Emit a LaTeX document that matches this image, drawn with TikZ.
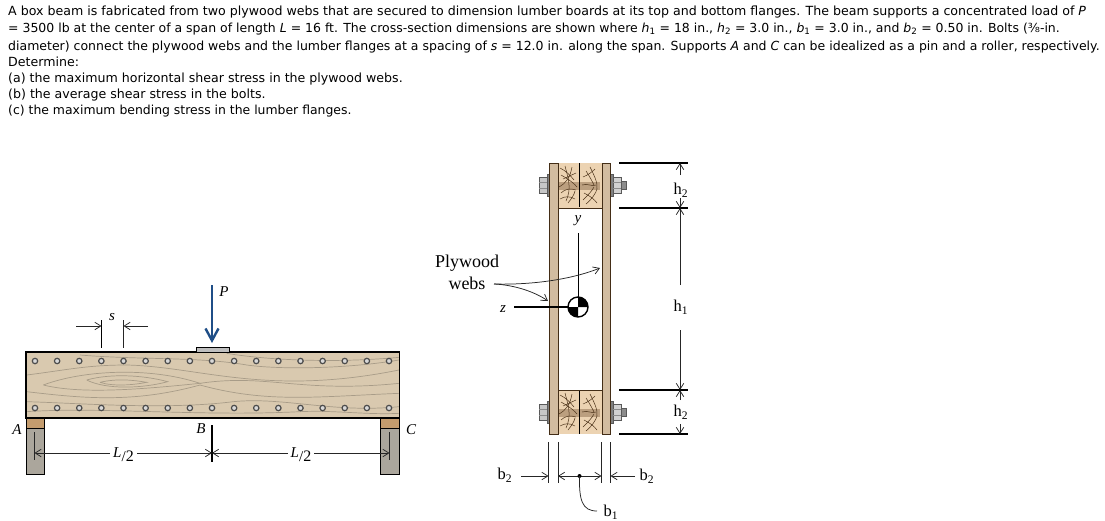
\documentclass[tikz,border=0pt]{standalone}
\usepackage{fontspec}
\setmainfont{Liberation Serif}
\newfontfamily\probfont{DejaVu Sans}
\usetikzlibrary{arrows.meta}
\definecolor{woodc}{HTML}{D9C9AF}
\definecolor{grainc}{HTML}{A89C88}
\definecolor{plyc}{HTML}{D2BCA0}
\definecolor{lumberc}{HTML}{ECD3B2}
\definecolor{blockc}{HTML}{C49C6E}
\definecolor{suppc}{HTML}{ABA69C}
\definecolor{loadc}{HTML}{1F4E87}
\tikzset{
  probline/.style={anchor=base west, inner sep=0pt, font=\probfont\fontsize{#1}{14}\selectfont},
  probline/.default=12.6,
  dimline/.style={draw=black!85, line width=0.75pt},
  dimarrow/.style={dimline, -{Straight Barb[length=6pt,width=7.5pt]}},
  extline/.style={draw=black, line width=1.1pt},
  lbl/.style={inner sep=0pt, font=\fontsize{15}{15}\selectfont},
  ital/.style={lbl, font=\itshape\fontsize{15}{15}\selectfont},
  sublbl/.style={lbl, font=\fontsize{16.5}{16}\selectfont},
  grain/.style={draw=grainc, line width=0.7pt},
  knot/.style={draw=black!60!brown, line width=0.5pt},
  boltpart/.style={draw=black!65, line width=0.6pt},
}
\newcommand{\subs}[1]{\textsubscript{#1}}
\begin{document}
\begin{tikzpicture}[x=1pt,y=-1pt]
  \useasboundingbox (0,0) rectangle (1105,520);
  % problem text
  \node[probline] (t1) at (8,15) {A box beam is fabricated from two plywood webs that are secured to dimension lumber boards at its top and bottom flanges. The beam supports a concentrated load of \textit{P}};
  \node[probline=12.47] (t2) at (8,32) {= 3500 lb at the center of a span of length \textit{L} = 16 ft. The cross-section dimensions are shown where \textit{h}\subs{1} = 18 in., \textit{h}\subs{2} = 3.0 in., \textit{b}\subs{1} = 3.0 in., and \textit{b}\subs{2} = 0.50 in. Bolts (⅜-in.};
  \node[probline=12.5] (t3) at (8,50) {diameter) connect the plywood webs and the lumber flanges at a spacing of \textit{s} = 12.0 in. along the span. Supports \textit{A} and \textit{C} can be idealized as a pin and a roller, respectively.};
  \node[probline] (t4) at (8,66) {Determine:};
  \node[probline] (t5) at (8,82) {(a) the maximum horizontal shear stress in the plywood webs.};
  \node[probline] (t6) at (8,98) {(b) the average shear stress in the bolts.};
  \node[probline=12.42] (t7) at (8,114) {(c) the maximum bending stress in the lumber flanges.};

  % beam
  \fill[woodc] (26,352) rectangle (399.5,418);
  \begin{scope}[shift={(0,270)},scale=1/3]
    \draw[grain] (130,345) .. controls (250,300) and (450,290) .. (600,340) .. controls (450,355) and (250,375) .. (130,345);
    \draw[grain] (260,330) .. controls (330,310) and (430,315) .. (503,335) .. controls (430,355) and (320,360) .. (260,330);
    \draw[grain] (300,337) .. controls (350,325) and (400,330) .. (440,337) .. controls (400,345) and (340,350) .. (300,337);
    \draw[grain] (80,315) .. controls (200,300) and (260,285) .. (380,285) .. controls (600,290) and (800,380) .. (1197,300);
    \draw[grain] (240,255) .. controls (420,270) and (600,260) .. (740,285) .. controls (850,300) and (1050,295) .. (1197,270);
    \draw[grain] (600,340) .. controls (800,310) and (900,370) .. (1197,340);
    \draw[grain] (80,365) .. controls (250,385) and (400,400) .. (600,345) .. controls (800,400) and (950,380) .. (1197,370);
    \draw[grain] (80,395) .. controls (250,400) and (500,420) .. (700,395) .. controls (850,380) and (1000,430) .. (1197,410);
    \draw[grain] (80,425) .. controls (300,410) and (600,440) .. (900,425) .. controls (1000,420) and (1100,435) .. (1197,430);
    \draw[grain] (680,250) .. controls (800,270) and (1000,280) .. (1197,262);
  \end{scope}
  \draw[line width=1.2pt] (26,352) rectangle (399.5,418);
  \foreach \i in {0,...,16} {
    \draw[line width=1.2pt, draw=black!70, fill=white!85!black] ({35+22.125*\i},361) circle (2.7pt);
    \draw[line width=1.2pt, draw=black!70, fill=white!85!black] ({35+22.125*\i},408) circle (2.7pt);
  }
  % load plate and load
  \draw[fill=black!25, line width=0.8pt] (196.5,347) rectangle (229.5,352);
  \coordinate (Ptop) at (212,285);
  \coordinate (Ptip) at (212,343);
  \draw[draw=loadc, line width=2.8pt, -{Straight Barb[length=12pt,width=13pt,line width=2.4pt]}] (Ptop) -- (Ptip);
  \node[ital] (Plbl) at (224,292) {P};
  % spacing s
  \coordinate (sa) at (101.5,320); \coordinate (sab) at (101.5,348);
  \coordinate (sb) at (123.5,320); \coordinate (sbb) at (123.5,348);
  \draw[extline] (sa) -- (sab);
  \draw[dimline] (sb) -- (sbb);
  \coordinate (sl) at (76,326); \coordinate (slt) at (101.5,326);
  \coordinate (sr) at (148,326); \coordinate (srt) at (123.5,326);
  \draw[dimarrow] (sl) -- (slt);
  \draw[dimarrow] (sr) -- (srt);
  \node[ital] (slbl) at (112,317) {s};
  % supports
  \foreach \xa/\xb in {26/44,380/399.5} {
    \draw[fill=blockc, line width=0.8pt] (\xa,418) rectangle (\xb,428.5);
    \draw[fill=suppc, line width=0.8pt] (\xa,428.5) rectangle (\xb,474);
  }
  \node[ital] (Albl) at (17,430) {A};
  \node[ital] (Blbl) at (201,429) {B};
  \node[ital] (Clbl) at (411,430) {C};
  % span dimensions
  \coordinate (La) at (34.5,432); \coordinate (Lab) at (34.5,460);
  \coordinate (Lb) at (212,425); \coordinate (Lbb) at (212,462);
  \coordinate (Lc) at (389.5,432); \coordinate (Lcb) at (389.5,460);
  \draw[dimline] (La) -- (Lab);
  \draw[extline] (Lb) -- (Lbb);
  \draw[dimline] (Lc) -- (Lcb);
  \node[lbl, inner xsep=3pt] (L1) at (123.5,455) {\textit{L}\raisebox{-4pt}{/\fontsize{16}{16}\selectfont2}};
  \node[lbl, inner xsep=3pt] (L2) at (301,455) {\textit{L}\raisebox{-4pt}{/\fontsize{16}{16}\selectfont2}};
  \coordinate (y1) at (0,453);
  \draw[dimarrow] (L1.west |- y1) -- (La |- y1);
  \draw[dimarrow] (L1.east |- y1) -- (Lb |- y1);
  \draw[dimarrow] (L2.west |- y1) -- (Lb |- y1);
  \draw[dimarrow] (L2.east |- y1) -- (Lc |- y1);

  % cross-section
  \foreach \yy in {163,390} {
    \begin{scope}[shift={(0,\yy)}]
      \fill[lumberc] (558,0) rectangle (602,\ifnum\yy=163 45\else 44\fi);
      \fill[black!50!brown, opacity=0.35] (558,19) rectangle (600,27);
      \draw[line width=0.5pt] (579,0) -- (579,44);
      \draw[knot] (565,3) .. controls (568,15) and (572,25) .. (566,38);
      \draw[knot] (572,4) .. controls (570,15) and (566,20) .. (559,24);
      \draw[knot] (561,12) .. controls (566,15) and (572,18) .. (577,24);
      \draw[knot] (561,30) .. controls (565,26) and (570,25) .. (576,27);
      \draw[knot] (563,16) -- (576,10);
      \draw[knot] (560,5) .. controls (566,8) and (570,12) .. (574,17);
      \draw[knot] (568,40) .. controls (572,35) and (574,32) .. (575,28);
      \draw[knot] (560,36) .. controls (565,33) and (570,33) .. (575,36);
      \draw[knot] (590,4) .. controls (594,12) and (598,20) .. (597,26) .. controls (596,30) and (592,36) .. (586,41);
      \draw[knot] (583,14) .. controls (588,12) and (592,9) .. (595,6);
      \draw[knot] (584,30) .. controls (590,33) and (594,36) .. (597,40);
      \draw[knot] (582,22) .. controls (588,20) and (592,24) .. (596,22);
      \draw[knot] (583,37) .. controls (588,32) and (592,28) .. (594,24);
      \draw[knot] (586,8) .. controls (590,14) and (592,18) .. (594,22);
    \end{scope}
    \begin{scope}[shift={(0,\yy+22.5)}]
      \draw[boltpart, fill=black!22] (539,-8) rectangle (547,8);
      \draw[draw=black!45, line width=0.4pt] (539,-3) -- (547,-3) (539,3) -- (547,3);
      \draw[boltpart, fill=black!50] (547,-11) rectangle (549,11);
      \draw[boltpart, fill=black!50] (610.5,-11) rectangle (613,11);
      \draw[boltpart, fill=black!18] (613,-8) rectangle (621,8);
      \draw[draw=black!45, line width=0.4pt] (613,-3) -- (621,-3) (613,3) -- (621,3);
      \draw[boltpart, fill=black!45] (621,-4) rectangle (626,4);
    \end{scope}
  }
  \draw[fill=plyc, draw=black!65!brown, line width=0.7pt] (549,163) rectangle (558,434);
  \draw[fill=plyc, draw=black!65!brown, line width=0.7pt] (602,163) rectangle (610.5,434);
  \draw[line width=0.7pt, draw=black!65!brown] (558,208) -- (602,208) (558,390) -- (602,390);
  % y and z axes
  \coordinate (O) at (578,307);
  \coordinate (ytop) at (578,233);
  \coordinate (zend) at (514,307);
  \draw[line width=1pt] (ytop) -- (O);
  \draw[line width=1.1pt] (zend) -- (O);
  \fill[white] (O) circle (10pt);
  \fill[black] (O) -- ++(10,0) arc (0:-90:10) -- cycle;
  \fill[black] (O) -- ++(-10,0) arc (180:90:10) -- cycle;
  \draw[line width=1.4pt] (O) circle (10pt);
  \node[ital] (ylbl) at (578,221) {y};
  \node[ital] (zlbl) at (503,309) {z};
  % plywood label
  \node[lbl, font=\fontsize{18}{22}\selectfont, align=center] (ply) at (467,272) {Plywood\\webs};
  \coordinate (plyout) at (494,284);
  \coordinate (webr) at (600,268);
  \coordinate (webl) at (548,301);
  \draw[dimarrow] (plyout) .. controls (530,285) and (570,280) .. (webr);
  \draw[dimarrow] (plyout) .. controls (515,285) and (535,292) .. (webl);
  % height dimensions
  \foreach \yy/\nm in {163/ha,208/hb,390/hc,434/hd} {
    \coordinate (\nm) at (680,\yy);
    \coordinate (\nm l) at (619,\yy);
    \coordinate (\nm r) at (688,\yy);
    \draw[extline] (\nm l) -- (\nm r);
  }
  \node[sublbl] (h2t) at (681,190) {h\subs{2}};
  \node[sublbl] (h1) at (681,307) {h\subs{1}};
  \node[sublbl] (h2b) at (681,412) {h\subs{2}};
  \coordinate (h2tu) at (680,175); \coordinate (h2td) at (680,198);
  \coordinate (h1u) at (680,285); \coordinate (h1d) at (680,330);
  \coordinate (h2bu) at (680,400); \coordinate (h2bd) at (680,424);
  \draw[dimarrow] (h2tu) -- (ha);
  \draw[dimarrow] (h2td) -- (hb);
  \draw[dimarrow] (h1u) -- (hb);
  \draw[dimarrow] (h1d) -- (hc);
  \draw[dimarrow] (h2bu) -- (hc);
  \draw[dimarrow] (h2bd) -- (hd);
  % width dimensions
  \foreach \xx/\nm in {548.5/wa,558/wb,601.5/wc,610.5/wd} {
    \coordinate (\nm t) at (\xx,442);
    \coordinate (\nm b) at (\xx,483);
    \draw[dimline] (\nm t) -- (\nm b);
  }
  \coordinate (wo) at (579.5,476);
  \coordinate (wl) at (521,476);
  \coordinate (wr) at (635,476);
  \draw[dimarrow] (wl) -- (wat |- wo);
  \draw[dimarrow] (wo) -- (wbt |- wo);
  \draw[dimarrow] (wo) -- (wct |- wo);
  \draw[dimarrow] (wr) -- (wdt |- wo);
  \fill[black] (wo) circle (2pt);
  \node[sublbl] (b2l) at (505,475) {b\subs{2}};
  \node[sublbl] (b2r) at (647,476) {b\subs{2}};
  \node[sublbl] (b1) at (611,512) {b\subs{1}};
  \coordinate (b1end) at (597,511);
  \draw[dimline] (wo) .. controls (579,500) and (582,511) .. (b1end);
\end{tikzpicture}
\end{document}
